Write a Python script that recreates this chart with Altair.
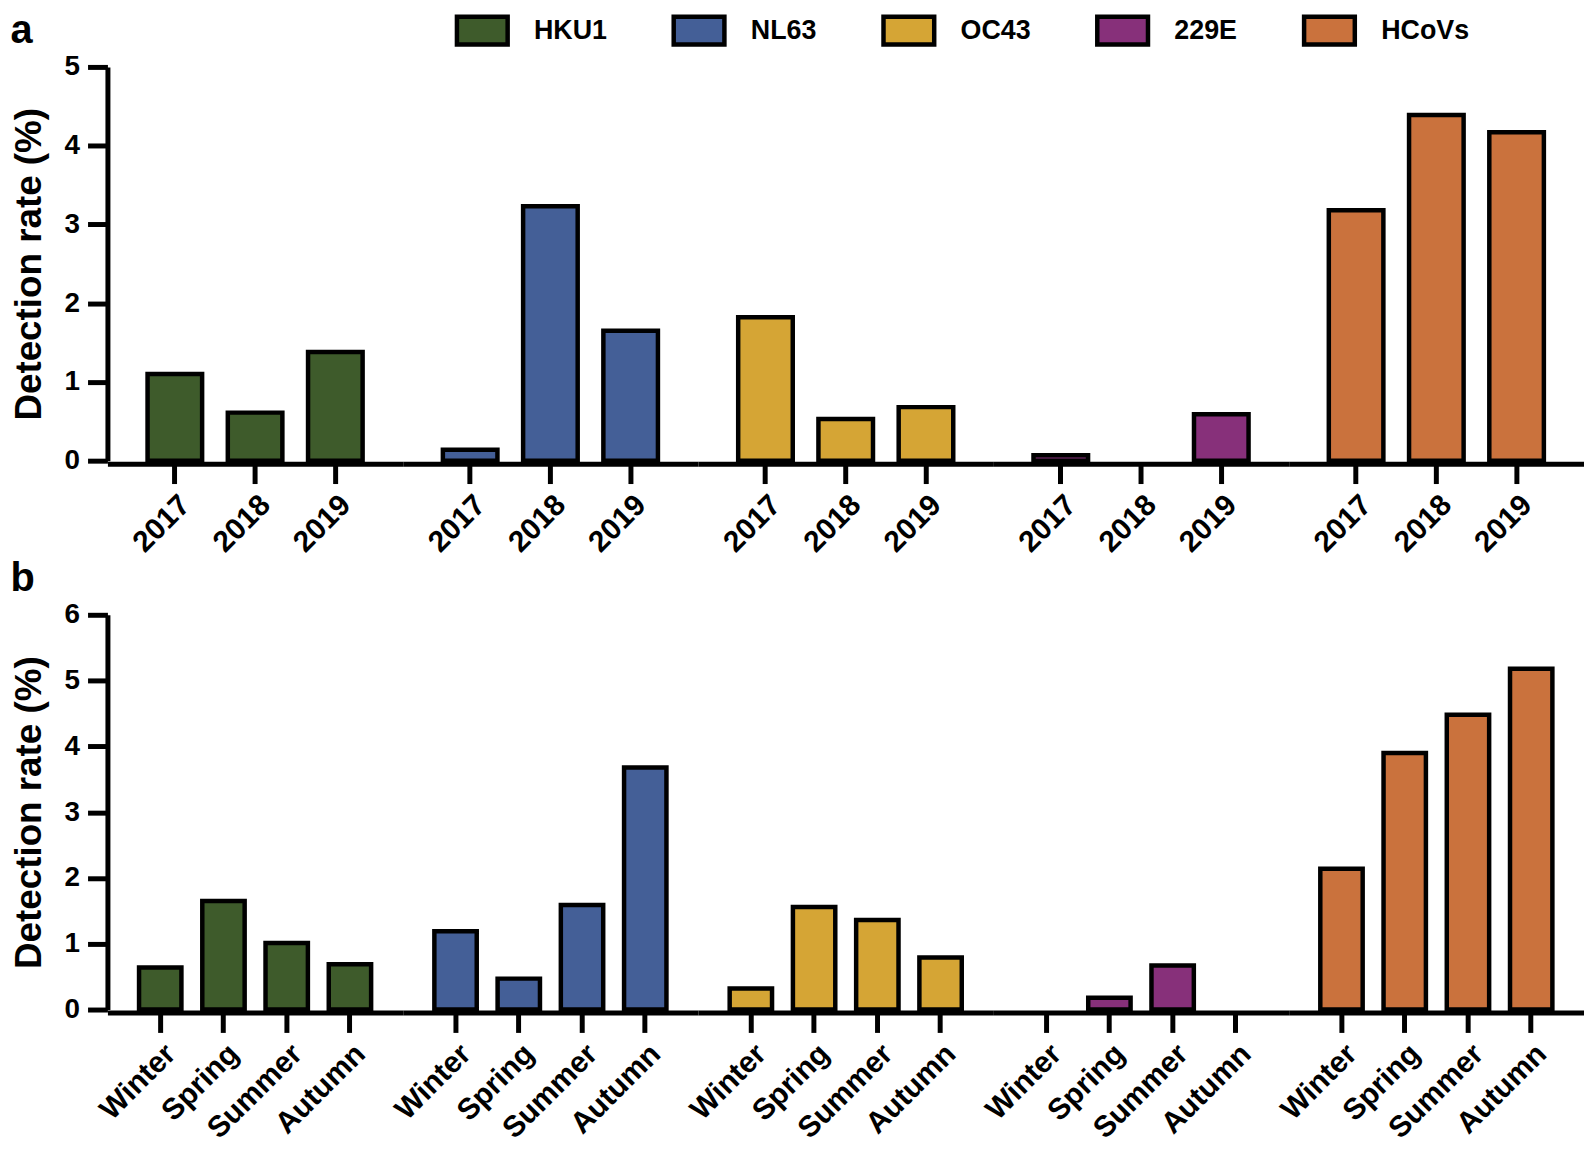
import altair as alt
import pandas as pd

# ---- data ----
groups = ["HKU1", "NL63", "OC43", "229E", "HCoVs"]
colors = ["#3E5B2B", "#445F97", "#D5A535", "#87307A", "#CA723D"]
years = ["2017", "2018", "2019"]
seasons = ["Winter", "Spring", "Summer", "Autumn"]

# panel a: detection rate by year (%)
hku1_year = [1.10, 0.61, 1.38]
nl63_year = [0.14, 3.23, 1.65]
oc43_year = [1.82, 0.53, 0.68]
e229_year = [0.07, 0.00, 0.59]
hcovs_year = [3.18, 4.39, 4.17]

# panel b: detection rate by season (%)
hku1_season = [0.64, 1.65, 1.01, 0.69]
nl63_season = [1.19, 0.47, 1.59, 3.68]
oc43_season = [0.32, 1.56, 1.36, 0.79]
e229_season = [0.00, 0.18, 0.67, 0.00]
hcovs_season = [2.14, 3.90, 4.48, 5.18]

year_vals = [hku1_year, nl63_year, oc43_year, e229_year, hcovs_year]
season_vals = [hku1_season, nl63_season, oc43_season, e229_season, hcovs_season]

df_a = pd.DataFrame(
    [{"group": g, "period": p, "rate": v}
     for g, vals in zip(groups, year_vals) for p, v in zip(years, vals)]
)
df_b = pd.DataFrame(
    [{"group": g, "period": p, "rate": v}
     for g, vals in zip(groups, season_vals) for p, v in zip(seasons, vals)]
)

FONT = "Liberation Sans, Arial, Helvetica, sans-serif"
CELL_W = 297

legend = alt.Legend(
    title=None,
    orient="none",
    direction="horizontal",
    legendX=349,
    legendY=-65,
    symbolType="M-1,-0.55L1,-0.55L1,0.55L-1,0.55Z",
    symbolSize=2601,
    symbolStrokeColor="black",
    symbolStrokeWidth=4.5,
    symbolOpacity=1,
    labelFont=FONT,
    labelFontSize=27,
    labelFontWeight="bold",
    labelColor="black",
    labelOffset=24,
    columnPadding=57,
)

color_enc = alt.Color(
    "group:N", sort=groups,
    scale=alt.Scale(domain=groups, range=colors),
    legend=legend,
)

x_axis = alt.Axis(
    title=None,
    labelAngle=315,
    labelAlign="right",
    labelBaseline="top",
    labelFontSize=30,
    labelPadding=6,
)


def panel(df, cats, ymax, height, pad_inner, title):
    base = alt.Chart(df).transform_filter(
        "datum.rate > 0"
    ).mark_bar(stroke="black", strokeWidth=4.5).encode(
        x=alt.X("period:N", sort=cats,
                scale=alt.Scale(domain=cats, paddingInner=pad_inner,
                                paddingOuter=0.5),
                axis=x_axis),
        y=alt.Y("rate:Q",
                scale=alt.Scale(domain=[0, ymax], nice=False),
                axis=alt.Axis(values=list(range(0, ymax + 1)),
                              title="Detection rate (%)",
                              titleFontSize=37,
                              titlePadding=16,
                              labelFontSize=28,
                              labelPadding=8)),
        color=color_enc,
    ).properties(width=CELL_W, height=height)
    return base.facet(
        column=alt.Column("group:N", sort=groups,
                          header=alt.Header(labels=False, title=None)),
        spacing=0,
    ).properties(
        title=alt.Title(title, anchor="start", fontSize=40, font=FONT,
                        fontWeight="bold", color="black", offset=2)
    )


chart_a = panel(df_a, years, 5, 396, 0.32, "a")
chart_b = panel(df_b, seasons, 6, 397, 0.33, "b")

chart = alt.vconcat(chart_a, chart_b, spacing=1).resolve_scale(
    color="shared"
).properties(
    padding={"left": 2, "top": -9, "right": 0, "bottom": 0}
).configure_view(
    strokeWidth=0
).configure_axis(
    grid=False,
    domainColor="black",
    domainWidth=5,
    tickColor="black",
    tickWidth=5,
    tickSize=20,
    labelFont=FONT,
    labelFontWeight="bold",
    labelColor="black",
    titleFont=FONT,
    titleFontWeight="bold",
    titleColor="black",
)

chart.save("out.html", embed_options={"renderer": "svg", "actions": False})
